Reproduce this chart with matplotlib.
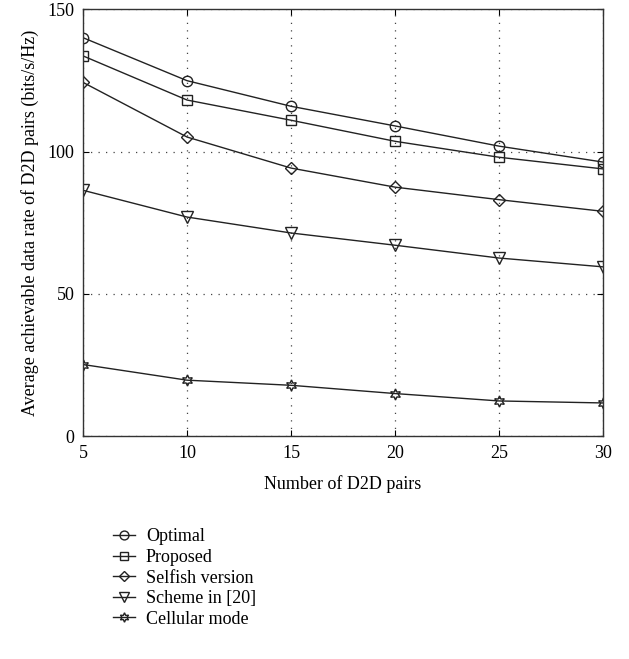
import numpy as np
import matplotlib.pyplot as plt

plt.rcParams['font.family'] = ['Liberation Serif', 'DejaVu Serif']

pairs = [5, 10, 15, 20, 25, 30]
optimal = [140.0, 124.9, 115.9, 109.0, 101.9, 96.3]
proposed = [133.6, 118.1, 111.0, 103.6, 98.0, 93.9]
selfish = [124.3, 105.1, 94.2, 87.5, 83.1, 79.0]
scheme20 = [86.4, 77.0, 71.4, 67.1, 62.6, 59.5]
cellular = [25.2, 19.7, 17.9, 15.0, 12.4, 11.7]

labels = ['Optimal', 'Proposed', 'Selfish version', 'Scheme in [20]', 'Cellular mode']
markers = ['o', 's', 'D', 'v', (6, 1, 0)]
sizes = [7.5, 6.5, 6, 8, 8]

fig = plt.figure(figsize=(6.29, 6.59), dpi=100)
ax = fig.add_axes([0.132, 0.338, 0.827, 0.648])

for vals, lab, m, ms in zip([optimal, proposed, selfish, scheme20, cellular],
                            labels, markers, sizes):
    ax.plot(pairs, vals, color='#222222', lw=1.0, marker=m, ms=ms,
            mfc='none', mec='#222222', mew=1.0, label=lab)

ax.set_xlim(5, 30)
ax.set_ylim(0, 150)
ax.set_xticks(pairs)
ax.set_yticks([0, 50, 100, 150])
ax.grid(True, linestyle=(0, (1, 5)), color='#444444', lw=0.9)
ax.tick_params(direction='in', labelsize=13, top=True, right=True, length=4, pad=6)
for s in ax.spines.values():
    s.set_color('#333333')
    s.set_linewidth(1.0)
ax.set_xlabel('Number of D2D pairs', fontsize=13, labelpad=10)
ax.set_ylabel('Average achievable data rate of D2D pairs (bits/s/Hz)', fontsize=13,
              labelpad=6)

h, l = ax.get_legend_handles_labels()
fig.legend(h, l, loc='upper left', bbox_to_anchor=(0.166, 0.212), frameon=False,
           fontsize=13, handlelength=1.2, handletextpad=0.6, labelspacing=0.2,
           borderpad=0, markerscale=0.85)

fig.savefig('out.png', dpi=100)
